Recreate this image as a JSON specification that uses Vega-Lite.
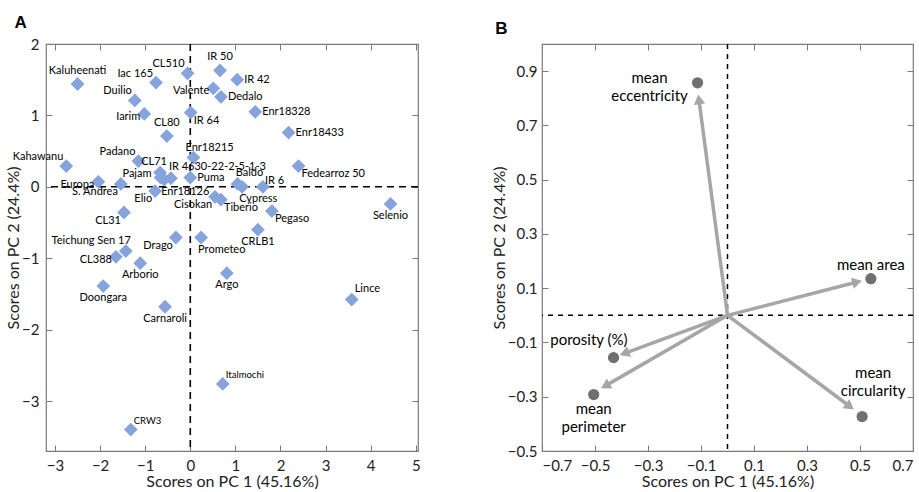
{
  "$schema": "https://vega.github.io/schema/vega-lite/v6.json",
  "padding": {"left": 5, "top": 13, "right": 2, "bottom": 0},
  "spacing": 69,
  "config": {
    "font": "Lato",
    "view": {"stroke": "#7a7a7a", "strokeWidth": 1.2},
    "axis": {
      "grid": false, "domain": false,
      "labelFont": "Lato", "labelFontSize": 15, "labelColor": "#222",
      "titleFont": "Lato", "titleFontSize": 16, "titleFontWeight": "normal", "titleColor": "#222",
      "tickColor": "#7a7a7a", "tickSize": -6, "labelPadding": 13, "titlePadding": 0
    },
    "title": {"font": "Liberation Sans", "fontSize": 17, "fontWeight": "bold", "anchor": "start", "color": "black", "frame": "bounds"}
  },
  "hconcat": [
    {
      "width": 372, "height": 407,
      "title": {"text": "A", "dx": 9, "offset": 5},
      "data": {"values": [
        {"name": "Kaluheenati", "pc1": -2.50, "pc2": 1.44},
        {"name": "Iac 165", "pc1": -0.76, "pc2": 1.46},
        {"name": "CL510", "pc1": -0.06, "pc2": 1.59},
        {"name": "IR 50", "pc1": 0.66, "pc2": 1.63},
        {"name": "IR 42", "pc1": 1.04, "pc2": 1.50},
        {"name": "Valente", "pc1": 0.51, "pc2": 1.38},
        {"name": "Dedalo", "pc1": 0.68, "pc2": 1.26},
        {"name": "Duilio", "pc1": -1.23, "pc2": 1.21},
        {"name": "Iarim", "pc1": -1.02, "pc2": 1.02},
        {"name": "IR 64", "pc1": 0.01, "pc2": 1.04},
        {"name": "Enr18328", "pc1": 1.44, "pc2": 1.05},
        {"name": "Enr18433", "pc1": 2.18, "pc2": 0.76},
        {"name": "CL80", "pc1": -0.52, "pc2": 0.71},
        {"name": "Enr18215", "pc1": 0.07, "pc2": 0.41},
        {"name": "Padano", "pc1": -1.15, "pc2": 0.36},
        {"name": "Kahawanu", "pc1": -2.75, "pc2": 0.29},
        {"name": "Fedearroz 50", "pc1": 2.40, "pc2": 0.29},
        {"name": "CL71", "pc1": -0.67, "pc2": 0.20},
        {"name": "Pajam", "pc1": -0.66, "pc2": 0.13},
        {"name": "IR 4630-22-2-5-1-3", "pc1": -0.43, "pc2": 0.12},
        {"name": "Enr18126", "pc1": -0.58, "pc2": 0.10},
        {"name": "Puma", "pc1": 0.00, "pc2": 0.13},
        {"name": "Europa", "pc1": -2.04, "pc2": 0.07},
        {"name": "S. Andrea", "pc1": -1.54, "pc2": 0.04},
        {"name": "Baldo", "pc1": 1.05, "pc2": 0.04},
        {"name": "Cypress", "pc1": 1.15, "pc2": 0.00},
        {"name": "IR 6", "pc1": 1.61, "pc2": 0.00},
        {"name": "Elio", "pc1": -0.78, "pc2": -0.06},
        {"name": "Cisokan", "pc1": 0.55, "pc2": -0.14},
        {"name": "Tiberio", "pc1": 0.68, "pc2": -0.18},
        {"name": "Selenio", "pc1": 4.44, "pc2": -0.24},
        {"name": "Pegaso", "pc1": 1.81, "pc2": -0.34},
        {"name": "CL31", "pc1": -1.47, "pc2": -0.36},
        {"name": "CRLB1", "pc1": 1.50, "pc2": -0.60},
        {"name": "Drago", "pc1": -0.32, "pc2": -0.71},
        {"name": "Prometeo", "pc1": 0.24, "pc2": -0.71},
        {"name": "Teichung Sen 17", "pc1": -1.43, "pc2": -0.90},
        {"name": "CL388", "pc1": -1.65, "pc2": -0.98},
        {"name": "Arborio", "pc1": -1.11, "pc2": -1.07},
        {"name": "Argo", "pc1": 0.81, "pc2": -1.21},
        {"name": "Doongara", "pc1": -1.93, "pc2": -1.39},
        {"name": "Lince", "pc1": 3.58, "pc2": -1.58},
        {"name": "Carnaroli", "pc1": -0.56, "pc2": -1.68},
        {"name": "Italmochi", "pc1": 0.72, "pc2": -2.76},
        {"name": "CRW3", "pc1": -1.32, "pc2": -3.40}
      ]},
      "resolve": {"axis": {"x": "independent", "y": "independent"}},
      "layer": [
        {
          "data": {"values": [{}]},
          "mark": {"type": "rule", "strokeDash": [7, 5], "strokeWidth": 1.6, "color": "black"},
          "encoding": {"x": {"datum": 0, "type": "quantitative",
            "scale": {"domain": [-3.2, 5.05], "nice": false, "zero": false},
            "axis": {"orient": "bottom", "values": [-3, -2, -1, 0, 1, 2, 3, 4, 5], "title": "Scores on PC 1 (45.16%)"}}}
        },
        {
          "data": {"values": [{}]},
          "mark": {"type": "rule", "strokeDash": [7, 5], "strokeWidth": 1.6, "color": "black"},
          "encoding": {"y": {"datum": 0, "type": "quantitative",
            "scale": {"domain": [-3.7, 2], "nice": false, "zero": false},
            "axis": {"orient": "left", "values": [-3, -2, -1, 0, 1, 2], "title": "Scores on PC 2 (24.4%)"}}}
        },
        {
          "mark": {"type": "point", "shape": "diamond", "filled": true, "color": "#86a3dc", "opacity": 1, "size": 190},
          "encoding": {
            "x": {"field": "pc1", "type": "quantitative", "scale": {"domain": [-3.2, 5.05], "nice": false, "zero": false},
              "axis": {"orient": "top", "labels": false, "title": null, "values": [-3, -2, -1, 0, 1, 2, 3, 4, 5]}},
            "y": {"field": "pc2", "type": "quantitative", "scale": {"domain": [-3.7, 2], "nice": false, "zero": false},
              "axis": {"orient": "right", "labels": false, "title": null, "values": [-3, -2, -1, 0, 1, 2]}}
          }
        },
        {"transform": [{"filter": {"field": "name", "oneOf": ["Kaluheenati", "IR 50", "CL80"]}}],
         "mark": {"type": "text", "align": "center", "baseline": "middle", "dx": 0, "dy": -13, "fontSize": 11},
         "encoding": {"x": {"field": "pc1", "type": "quantitative", "axis": null}, "y": {"field": "pc2", "type": "quantitative", "axis": null}, "text": {"field": "name"}}},
        {"transform": [{"filter": {"field": "name", "oneOf": ["CL71"]}}],
         "mark": {"type": "text", "align": "center", "baseline": "middle", "dx": -6, "dy": -11, "fontSize": 11},
         "encoding": {"x": {"field": "pc1", "type": "quantitative", "axis": null}, "y": {"field": "pc2", "type": "quantitative", "axis": null}, "text": {"field": "name"}}},
        {"transform": [{"filter": {"field": "name", "oneOf": ["Selenio", "CRLB1", "Argo", "Carnaroli", "Arborio", "Doongara"]}}],
         "mark": {"type": "text", "align": "center", "baseline": "middle", "dx": 0, "dy": 12, "fontSize": 11},
         "encoding": {"x": {"field": "pc1", "type": "quantitative", "axis": null}, "y": {"field": "pc2", "type": "quantitative", "axis": null}, "text": {"field": "name"}}},
        {"transform": [{"filter": {"field": "name", "oneOf": ["IR 42", "Dedalo", "Enr18328", "Enr18433", "Puma"]}}],
         "mark": {"type": "text", "align": "left", "baseline": "middle", "dx": 7, "dy": 0, "fontSize": 11},
         "encoding": {"x": {"field": "pc1", "type": "quantitative", "axis": null}, "y": {"field": "pc2", "type": "quantitative", "axis": null}, "text": {"field": "name"}}},
        {"transform": [{"filter": {"field": "name", "oneOf": ["IR 64", "Fedearroz 50", "Tiberio", "Pegaso"]}}],
         "mark": {"type": "text", "align": "left", "baseline": "middle", "dx": 3, "dy": 8, "fontSize": 11},
         "encoding": {"x": {"field": "pc1", "type": "quantitative", "axis": null}, "y": {"field": "pc2", "type": "quantitative", "axis": null}, "text": {"field": "name"}}},
        {"transform": [{"filter": {"field": "name", "oneOf": ["Valente", "Europa", "Iarim", "CL388"]}}],
         "mark": {"type": "text", "align": "right", "baseline": "middle", "dx": -4, "dy": 3, "fontSize": 11},
         "encoding": {"x": {"field": "pc1", "type": "quantitative", "axis": null}, "y": {"field": "pc2", "type": "quantitative", "axis": null}, "text": {"field": "name"}}},
        {"transform": [{"filter": {"field": "name", "oneOf": ["Elio", "Cisokan", "Drago", "CL31", "S. Andrea"]}}],
         "mark": {"type": "text", "align": "right", "baseline": "middle", "dx": -3, "dy": 8, "fontSize": 11},
         "encoding": {"x": {"field": "pc1", "type": "quantitative", "axis": null}, "y": {"field": "pc2", "type": "quantitative", "axis": null}, "text": {"field": "name"}}},
        {"transform": [{"filter": {"field": "name", "oneOf": ["Iac 165", "Kahawanu", "Padano", "Duilio", "CL510"]}}],
         "mark": {"type": "text", "align": "right", "baseline": "middle", "dx": -3, "dy": -9, "fontSize": 11},
         "encoding": {"x": {"field": "pc1", "type": "quantitative", "axis": null}, "y": {"field": "pc2", "type": "quantitative", "axis": null}, "text": {"field": "name"}}},
        {"transform": [{"filter": {"field": "name", "oneOf": ["Pajam"]}}],
         "mark": {"type": "text", "align": "right", "baseline": "middle", "dx": -9, "dy": -4, "fontSize": 11},
         "encoding": {"x": {"field": "pc1", "type": "quantitative", "axis": null}, "y": {"field": "pc2", "type": "quantitative", "axis": null}, "text": {"field": "name"}}},
        {"transform": [{"filter": {"field": "name", "oneOf": ["Teichung Sen 17"]}}],
         "mark": {"type": "text", "align": "right", "baseline": "middle", "dx": 5, "dy": -10, "fontSize": 11},
         "encoding": {"x": {"field": "pc1", "type": "quantitative", "axis": null}, "y": {"field": "pc2", "type": "quantitative", "axis": null}, "text": {"field": "name"}}},
        {"transform": [{"filter": {"field": "name", "oneOf": ["Enr18215"]}}],
         "mark": {"type": "text", "align": "left", "baseline": "middle", "dx": -8, "dy": -10, "fontSize": 11},
         "encoding": {"x": {"field": "pc1", "type": "quantitative", "axis": null}, "y": {"field": "pc2", "type": "quantitative", "axis": null}, "text": {"field": "name"}}},
        {"transform": [{"filter": {"field": "name", "oneOf": ["IR 4630-22-2-5-1-3", "Baldo"]}}],
         "mark": {"type": "text", "align": "left", "baseline": "middle", "dx": -2, "dy": -11, "fontSize": 11},
         "encoding": {"x": {"field": "pc1", "type": "quantitative", "axis": null}, "y": {"field": "pc2", "type": "quantitative", "axis": null}, "text": {"field": "name"}}},
        {"transform": [{"filter": {"field": "name", "oneOf": ["Lince"]}}],
         "mark": {"type": "text", "align": "left", "baseline": "middle", "dx": 3, "dy": -11, "fontSize": 11},
         "encoding": {"x": {"field": "pc1", "type": "quantitative", "axis": null}, "y": {"field": "pc2", "type": "quantitative", "axis": null}, "text": {"field": "name"}}},
        {"transform": [{"filter": {"field": "name", "oneOf": ["IR 6"]}}],
         "mark": {"type": "text", "align": "left", "baseline": "middle", "dx": 2, "dy": -6, "fontSize": 11},
         "encoding": {"x": {"field": "pc1", "type": "quantitative", "axis": null}, "y": {"field": "pc2", "type": "quantitative", "axis": null}, "text": {"field": "name"}}},
        {"transform": [{"filter": {"field": "name", "oneOf": ["Cypress", "Enr18126", "Prometeo"]}}],
         "mark": {"type": "text", "align": "left", "baseline": "middle", "dx": -3, "dy": 12, "fontSize": 11},
         "encoding": {"x": {"field": "pc1", "type": "quantitative", "axis": null}, "y": {"field": "pc2", "type": "quantitative", "axis": null}, "text": {"field": "name"}}},
        {"transform": [{"filter": {"field": "name", "oneOf": ["Italmochi", "CRW3"]}}],
         "mark": {"type": "text", "align": "left", "baseline": "middle", "dx": 3, "dy": -9, "fontSize": 9.5},
         "encoding": {"x": {"field": "pc1", "type": "quantitative", "axis": null}, "y": {"field": "pc2", "type": "quantitative", "axis": null}, "text": {"field": "name"}}}
      ]
    },
    {
      "width": 371, "height": 407,
      "title": {"text": "B", "dx": 4, "offset": 5},
      "data": {"values": [
        {"variable": "mean\neccentricity", "pc1": -0.113, "pc2": 0.857, "hx": -0.108, "hy": 0.796},
        {"variable": "mean area", "pc1": 0.541, "pc2": 0.135, "hx": 0.489, "hy": 0.123},
        {"variable": "porosity (%)", "pc1": -0.430, "pc2": -0.156, "hx": -0.389, "hy": -0.140},
        {"variable": "mean\nperimeter", "pc1": -0.505, "pc2": -0.292, "hx": -0.461, "hy": -0.260},
        {"variable": "mean\ncircularity", "pc1": 0.508, "pc2": -0.373, "hx": 0.462, "hy": -0.336}
      ]},
      "resolve": {"axis": {"x": "independent", "y": "independent"}},
      "layer": [
        {
          "data": {"values": [{}]},
          "mark": {"type": "rule", "strokeDash": [5, 5], "strokeWidth": 1.5, "color": "black"},
          "encoding": {"x": {"datum": 0, "type": "quantitative",
            "scale": {"domain": [-0.7, 0.7], "nice": false, "zero": false},
            "axis": {"orient": "bottom", "values": [-0.7, -0.5, -0.3, -0.1, 0.1, 0.3, 0.5, 0.7], "format": ".1f", "title": "Scores on PC 1 (45.16%)"}}}
        },
        {
          "data": {"values": [{}]},
          "mark": {"type": "rule", "strokeDash": [5, 5], "strokeWidth": 1.5, "color": "black"},
          "encoding": {"y": {"datum": 0, "type": "quantitative",
            "scale": {"domain": [-0.5, 1.0], "nice": false, "zero": false},
            "axis": {"orient": "left", "values": [-0.5, -0.3, -0.1, 0.1, 0.3, 0.5, 0.7, 0.9], "format": ".1f", "title": "Scores on PC 2 (24.4%)", "labelPadding": 11}}}
        },
        {
          "mark": {"type": "rule", "color": "#a6a6a6", "strokeWidth": 3.5},
          "encoding": {
            "x": {"field": "hx", "type": "quantitative", "axis": null},
            "y": {"field": "hy", "type": "quantitative", "axis": null},
            "x2": {"datum": 0},
            "y2": {"datum": 0}
          }
        },
        {
          "transform": [{"calculate": "atan2(datum.hx, datum.hy) * 180 / PI", "as": "ang"}],
          "mark": {"type": "point", "shape": "triangle-up", "filled": true, "color": "#a6a6a6", "opacity": 1, "size": 130},
          "encoding": {
            "x": {"field": "hx", "type": "quantitative", "axis": null},
            "y": {"field": "hy", "type": "quantitative", "axis": null},
            "angle": {"field": "ang", "type": "quantitative", "scale": null}
          }
        },
        {
          "mark": {"type": "circle", "color": "#707070", "opacity": 1, "size": 125},
          "encoding": {
            "x": {"field": "pc1", "type": "quantitative", "scale": {"domain": [-0.7, 0.7], "nice": false, "zero": false},
              "axis": {"orient": "top", "labels": false, "title": null, "values": [-0.7, -0.5, -0.3, -0.1, 0.1, 0.3, 0.5, 0.7]}},
            "y": {"field": "pc2", "type": "quantitative", "scale": {"domain": [-0.5, 1.0], "nice": false, "zero": false},
              "axis": {"orient": "right", "labels": false, "title": null, "values": [-0.5, -0.3, -0.1, 0.1, 0.3, 0.5, 0.7, 0.9]}}
          }
        },
        {"transform": [{"filter": {"field": "variable", "equal": "mean\neccentricity"}}],
         "mark": {"type": "text", "lineBreak": "\n", "lineHeight": 18, "align": "center", "baseline": "middle", "dx": -48, "dy": -5, "fontSize": 15},
         "encoding": {"x": {"field": "pc1", "type": "quantitative", "axis": null}, "y": {"field": "pc2", "type": "quantitative", "axis": null}, "text": {"field": "variable"}}},
        {"transform": [{"filter": {"field": "variable", "equal": "mean area"}}],
         "mark": {"type": "text", "align": "center", "baseline": "middle", "dx": 0, "dy": -14, "fontSize": 15},
         "encoding": {"x": {"field": "pc1", "type": "quantitative", "axis": null}, "y": {"field": "pc2", "type": "quantitative", "axis": null}, "text": {"field": "variable"}}},
        {"transform": [{"filter": {"field": "variable", "equal": "porosity (%)"}}],
         "mark": {"type": "text", "align": "right", "baseline": "middle", "dx": 14, "dy": -18, "fontSize": 15},
         "encoding": {"x": {"field": "pc1", "type": "quantitative", "axis": null}, "y": {"field": "pc2", "type": "quantitative", "axis": null}, "text": {"field": "variable"}}},
        {"transform": [{"filter": {"field": "variable", "equal": "mean\nperimeter"}}],
         "mark": {"type": "text", "lineBreak": "\n", "lineHeight": 18, "align": "center", "baseline": "middle", "dx": 0, "dy": 14, "fontSize": 15},
         "encoding": {"x": {"field": "pc1", "type": "quantitative", "axis": null}, "y": {"field": "pc2", "type": "quantitative", "axis": null}, "text": {"field": "variable"}}},
        {"transform": [{"filter": {"field": "variable", "equal": "mean\ncircularity"}}],
         "mark": {"type": "text", "lineBreak": "\n", "lineHeight": 18, "align": "center", "baseline": "middle", "dx": 11, "dy": -44, "fontSize": 15},
         "encoding": {"x": {"field": "pc1", "type": "quantitative", "axis": null}, "y": {"field": "pc2", "type": "quantitative", "axis": null}, "text": {"field": "variable"}}}
      ]
    }
  ]
}
